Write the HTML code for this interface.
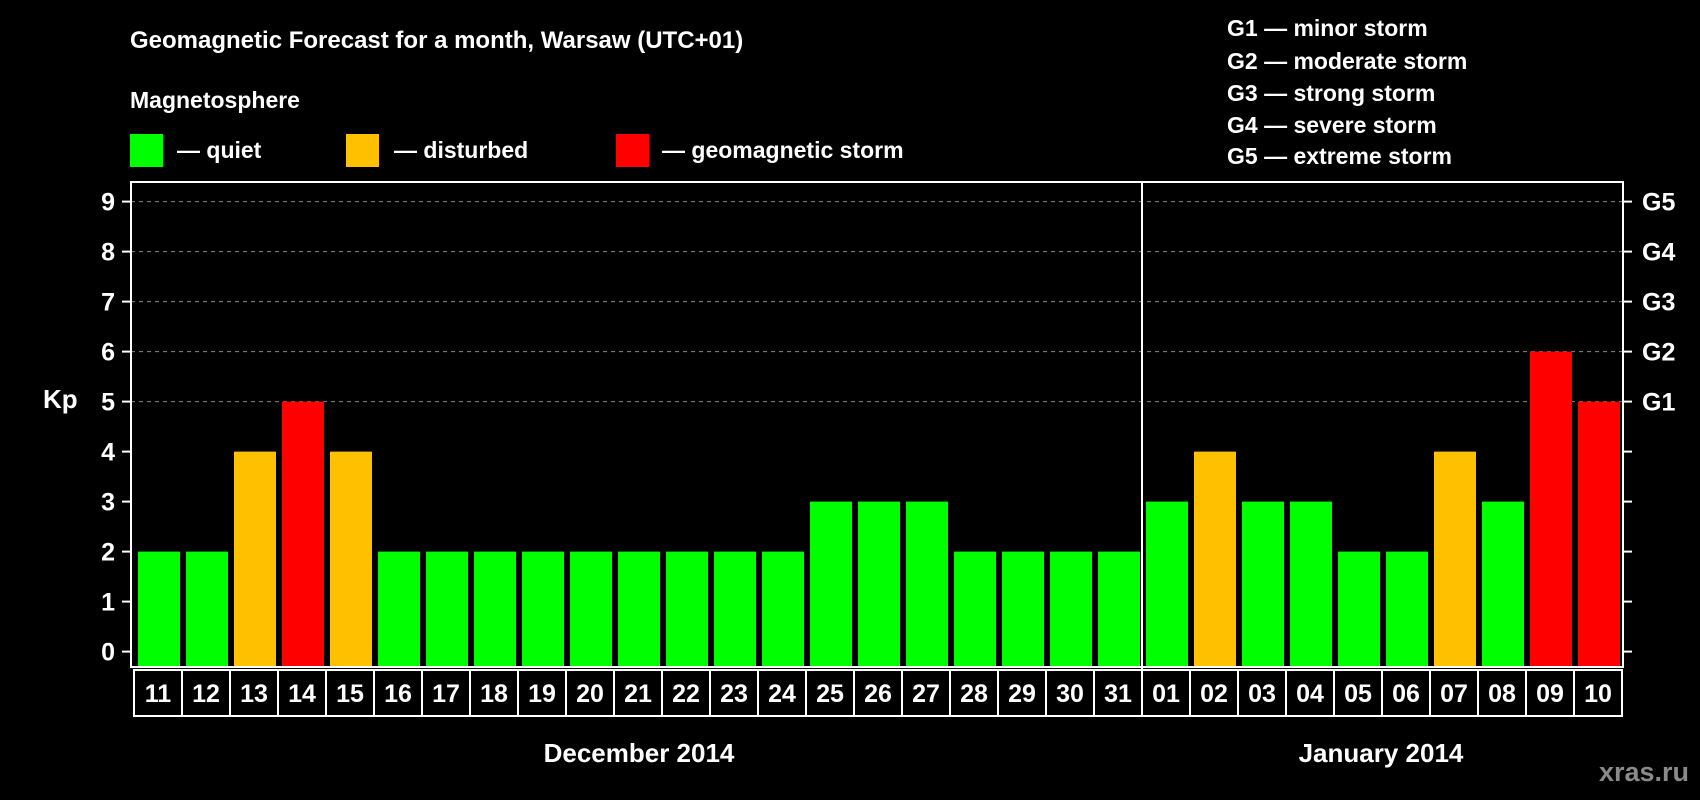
<!DOCTYPE html>
<html><head><meta charset="utf-8"><style>
html,body{margin:0;padding:0;background:#000;}
svg{display:block;font-family:"Liberation Sans",Arial,sans-serif;font-weight:bold;}
</style></head><body>
<svg id="chart" width="1700" height="800" viewBox="0 0 1700 800" xmlns="http://www.w3.org/2000/svg">
<rect width="1700" height="800" fill="#000"/>
<text x="130" y="48" fill="#fff" font-size="24">Geomagnetic Forecast for a month, Warsaw (UTC+01)</text>
<text x="130" y="108" fill="#fff" font-size="23">Magnetosphere</text>
<g><rect x="130" y="134" width="33" height="33" fill="#00ff00"/><text x="177" y="158" fill="#fff" font-size="23">— quiet</text></g>
<g><rect x="346" y="134" width="33" height="33" fill="#ffc000"/><text x="394" y="158" fill="#fff" font-size="23">— disturbed</text></g>
<g><rect x="616" y="134" width="33" height="33" fill="#ff0000"/><text x="662" y="158" fill="#fff" font-size="23">— geomagnetic storm</text></g>
<g fill="#fff" font-size="23">
<text x="1227" y="36">G1 — minor storm</text>
<text x="1227" y="69">G2 — moderate storm</text>
<text x="1227" y="101">G3 — strong storm</text>
<text x="1227" y="133">G4 — severe storm</text>
<text x="1227" y="164">G5 — extreme storm</text>
</g>
<text x="43" y="408" fill="#fff" font-size="26">Kp</text>
<text x="639" y="762" fill="#fff" font-size="26" text-anchor="middle">December 2014</text>
<text x="1381" y="762" fill="#fff" font-size="26" text-anchor="middle">January 2014</text>
<text x="1689" y="781" fill="#8a8a8a" font-size="27" text-anchor="end">xras.ru</text>
<g id="plot"></g>
</svg>
<script>
const days = ["11","12","13","14","15","16","17","18","19","20","21","22","23","24","25","26","27","28","29","30","31","01","02","03","04","05","06","07","08","09","10"];
const kpValues = [2,2,4,5,4,2,2,2,2,2,2,2,2,2,3,3,3,2,2,2,2,3,4,3,3,2,2,4,3,6,5];
const yTicks = [0,1,2,3,4,5,6,7,8,9];
const gLabels = ["","","","","","G1","G2","G3","G4","G5"];
const decemberCount = 21;

const NS="http://www.w3.org/2000/svg";
const plot=document.getElementById('plot');
const L=131,R=1623,T=182,B=667,slot0=134,slotW=48;
const yScale=v=>651.6-v*50;
const xSlot=i=>slot0+i*slotW;
function mk(tag,attrs,parent){const e=document.createElementNS(NS,tag);for(const k in attrs)e.setAttribute(k,attrs[k]);(parent||plot).appendChild(e);return e;}
// grid
yTicks.forEach(v=>{
  if(v>=5){const g=mk('line',{x1:L,x2:R,y1:yScale(v),y2:yScale(v),stroke:'#888','stroke-width':1,'stroke-dasharray':'4,4'});
  
  }
  const t1=mk('line',{x1:L-9,x2:L,y1:yScale(v),y2:yScale(v),stroke:'#fff','stroke-width':2});
  
  
  const t2=mk('line',{x1:R,x2:R+9,y1:yScale(v),y2:yScale(v),stroke:'#fff','stroke-width':2});
  
  
  const lb=mk('text',{x:115,y:yScale(v)+9,fill:'#fff','font-size':25,'text-anchor':'end'});
  lb.textContent=v;
  
  
  if(gLabels[v]){const g=mk('text',{x:1642,y:yScale(v)+9,fill:'#fff','font-size':25});
  g.textContent=gLabels[v];
  
  }
});
// bars
kpValues.forEach((v,i)=>{
  const c=v>=5?'#ff0000':(v>=4?'#ffc000':'#00ff00');
  const b=mk('rect',{x:xSlot(i)+4,y:yScale(v),width:42,height:B-yScale(v),fill:c});
  
  
});
// frame
const fr=mk('rect',{x:L,y:T,width:R-L,height:B-T,fill:'none',stroke:'#fff','stroke-width':2});


const dv=mk('line',{x1:xSlot(decemberCount),x2:xSlot(decemberCount),y1:T,y2:716,stroke:'#fff','stroke-width':2});


// day label boxes
days.forEach((d,i)=>{
  const r=mk('rect',{x:xSlot(i),y:670,width:slotW,height:46,fill:'none',stroke:'#fff','stroke-width':2});
  
  
  const t=mk('text',{x:xSlot(i)+slotW/2,y:702,fill:'#fff','font-size':25,'text-anchor':'middle'});
  t.textContent=d;
  
  
});
</script>
</body></html>
